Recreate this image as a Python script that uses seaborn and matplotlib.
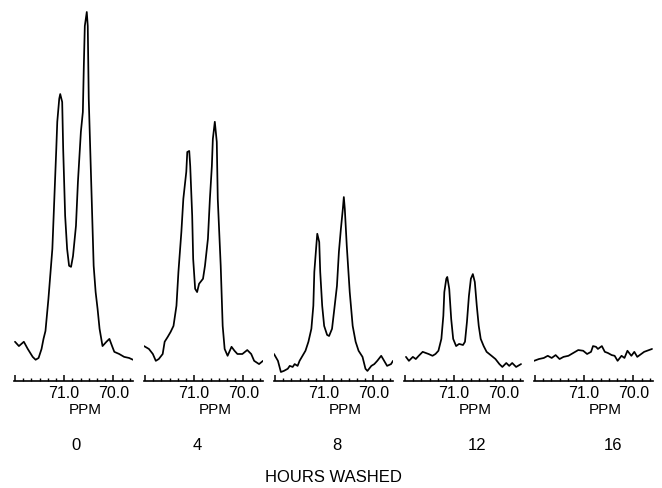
import matplotlib
matplotlib.use("Agg")
import seaborn as sns
from matplotlib import pyplot as plt
from matplotlib.ticker import FixedLocator, MultipleLocator

# Spectra: chemical shift (PPM) and relative intensity
ppm_0h = [72.00, 71.92, 71.82, 71.74, 71.64, 71.58, 71.52, 71.46, 71.42, 71.38, 71.32, 71.24,
          71.20, 71.16, 71.14, 71.10, 71.08, 71.04, 71.02, 70.98, 70.94, 70.90, 70.86, 70.82,
          70.76, 70.72, 70.66, 70.62, 70.60, 70.58, 70.54, 70.52, 70.50, 70.44, 70.40, 70.36,
          70.32, 70.28, 70.22, 70.14, 70.08, 70.02, 69.98, 69.88, 69.78, 69.68, 69.60]
int_0h = [8.1, 6.9, 8.1, 6.1, 3.9, 3.1, 3.6, 6.1, 8.9, 11.1, 20.0, 33.9,
          47.8, 61.7, 69.2, 75.6, 76.9, 74.7, 61.7, 43.1, 33.9, 29.2, 28.9, 31.9,
          40.3, 52.5, 66.4, 71.9, 84.7, 95.8, 99.7, 95.8, 75.6, 47.8, 29.2, 21.9,
          17.2, 11.7, 6.9, 8.1, 8.9, 6.7, 5.3, 4.7, 3.9, 3.6, 3.1]

ppm_4h = [72.02, 71.92, 71.84, 71.78, 71.72, 71.64, 71.60, 71.54, 71.48, 71.42, 71.36, 71.32,
          71.26, 71.22, 71.16, 71.14, 71.10, 71.08, 71.04, 71.02, 70.98, 70.94, 70.90, 70.82,
          70.78, 70.72, 70.68, 70.64, 70.62, 70.58, 70.54, 70.52, 70.46, 70.42, 70.38, 70.32,
          70.24, 70.18, 70.12, 70.02, 69.92, 69.84, 69.78, 69.68, 69.60]
int_4h = [6.9, 6.1, 4.7, 2.8, 3.3, 4.7, 8.1, 9.4, 10.8, 12.5, 18.1, 27.5,
          38.6, 47.8, 55.3, 60.8, 61.1, 56.9, 43.1, 31.1, 22.8, 21.9, 24.2, 25.6,
          29.2, 36.7, 47.8, 56.9, 64.4, 69.2, 63.6, 47.8, 29.2, 12.5, 6.1, 4.2,
          6.7, 5.6, 4.7, 4.7, 5.8, 4.7, 2.8, 1.9, 2.8]

ppm_8h = [72.02, 71.94, 71.88, 71.82, 71.74, 71.70, 71.64, 71.60, 71.54, 71.50, 71.44, 71.38,
          71.32, 71.26, 71.22, 71.20, 71.16, 71.14, 71.10, 71.08, 71.04, 71.00, 70.94, 70.90,
          70.84, 70.80, 70.74, 70.70, 70.66, 70.62, 70.60, 70.58, 70.54, 70.48, 70.42, 70.36,
          70.30, 70.22, 70.16, 70.12, 70.04, 69.98, 69.92, 69.84, 69.78, 69.72, 69.64, 69.60]
int_8h = [4.7, 2.8, -0.3, 0.0, 0.6, 1.4, 1.1, 1.9, 1.4, 2.8, 4.2, 5.6,
          8.1, 11.7, 18.1, 27.5, 34.7, 38.1, 35.8, 27.5, 18.1, 12.5, 10.0, 9.7,
          11.7, 16.4, 23.6, 33.1, 39.4, 45.0, 48.3, 45.0, 34.7, 21.9, 12.5, 8.1,
          5.6, 3.9, 0.6, 0.0, 1.4, 1.9, 2.8, 4.2, 2.8, 1.4, 1.9, 2.8]

ppm_12h = [71.98, 71.92, 71.84, 71.78, 71.72, 71.64, 71.58, 71.52, 71.44, 71.38, 71.32, 71.26,
           71.22, 71.20, 71.16, 71.14, 71.10, 71.06, 71.02, 70.96, 70.90, 70.82, 70.78, 70.74,
           70.70, 70.66, 70.62, 70.58, 70.54, 70.50, 70.46, 70.40, 70.34, 70.24, 70.16, 70.08,
           70.02, 69.94, 69.88, 69.82, 69.74, 69.64]
int_12h = [3.9, 2.8, 3.9, 3.3, 4.2, 5.3, 5.0, 4.7, 4.2, 4.7, 5.6, 8.9,
           15.3, 21.9, 25.6, 26.1, 22.8, 14.4, 8.9, 6.9, 7.5, 7.2, 8.1, 13.6,
           20.8, 25.6, 26.9, 24.7, 18.1, 12.5, 8.9, 6.9, 5.3, 4.2, 3.3, 1.9,
           1.1, 2.2, 1.4, 2.2, 1.1, 1.9]

ppm_16h = [72.02, 71.92, 71.82, 71.74, 71.66, 71.58, 71.50, 71.42, 71.32, 71.22, 71.12, 71.02,
           70.94, 70.86, 70.82, 70.76, 70.72, 70.64, 70.58, 70.52, 70.44, 70.38, 70.32, 70.24,
           70.18, 70.12, 70.04, 69.98, 69.92, 69.84, 69.78, 69.72, 69.62]
int_16h = [2.8, 3.3, 3.6, 4.2, 3.6, 4.4, 3.3, 3.9, 4.2, 5.0, 5.8, 5.6,
           4.7, 5.3, 6.9, 6.7, 6.1, 6.9, 5.3, 5.0, 4.4, 4.2, 2.8, 4.2,
           3.6, 5.6, 4.2, 5.3, 3.9, 4.7, 5.3, 5.6, 6.1]

hours = ["0", "4", "8", "12", "16"]
tick_ppm = [72.0, 71.0, 70.0]
tick_text = ["", "71.0", "70.0"]

spectra = [(ppm_0h, int_0h), (ppm_4h, int_4h), (ppm_8h, int_8h),
           (ppm_12h, int_12h), (ppm_16h, int_16h)]

sns.set_style("white")
plt.rcParams["font.family"] = ["Liberation Sans", "DejaVu Sans"]
plt.rcParams["text.color"] = "black"
plt.rcParams["axes.labelcolor"] = "black"
plt.rcParams["axes.edgecolor"] = "black"
plt.rcParams["xtick.color"] = "black"

W, H = 662, 489
fig = plt.figure(figsize=(W / 100, H / 100), dpi=100)

# panel layout in pixels (left edge of each axis line, width, bottom line)
lefts = [14, 144, 274, 404, 534]
width = 119
bottom = 382
hour_pos = [0.52, 0.45, 0.53, 0.61, 0.66]

for i, (ppm, inten) in enumerate(spectra):
    ax = fig.add_axes([lefts[i] / W, (H - bottom) / H, width / W, bottom / H])
    sns.lineplot(x=ppm, y=inten, ax=ax, color="black", linewidth=1.25, sort=False)
    ax.set_xlim(72.02, 69.60)
    ax.set_ylim(-2.8, 103.3)

    for side in ["top", "left", "right"]:
        ax.spines[side].set_visible(False)
    ax.spines["bottom"].set_linewidth(1.2)
    ax.set_yticks([])
    ax.set_ylabel("")

    ax.xaxis.set_major_locator(FixedLocator(tick_ppm))
    ax.set_xticklabels(tick_text)
    ax.xaxis.set_minor_locator(MultipleLocator(1 / 6))
    ax.tick_params(axis="x", which="major", direction="in", length=4, width=1.1,
                   labelsize=11.5, pad=3, bottom=True)
    ax.tick_params(axis="x", which="minor", direction="in", length=2, width=1, bottom=True)

    ax.set_xlabel("PPM", fontsize=11)
    ax.xaxis.set_label_coords(0.6, -0.055)

    ax.text(hour_pos[i], -0.165, hours[i], transform=ax.transAxes,
            ha="center", va="center", fontsize=12)

fig.text(333 / W, 1 - 478 / H, "HOURS WASHED", ha="center", va="center", fontsize=12)

fig.savefig("out.png", dpi=100)
